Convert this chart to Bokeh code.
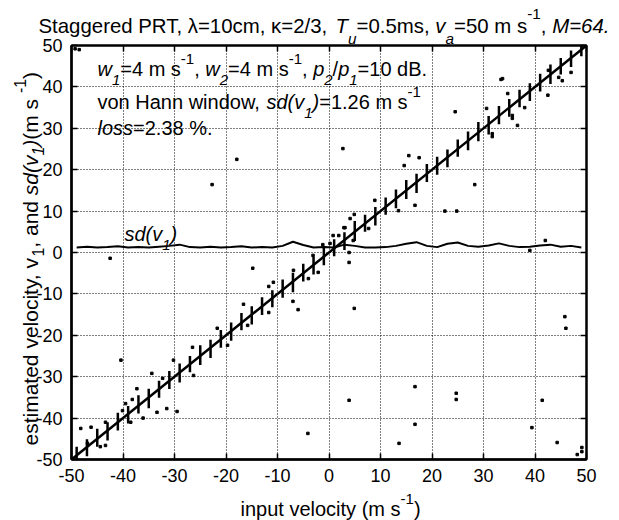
import math
from bokeh.plotting import figure
from bokeh.models import Range1d, LinearAxis, Label, FixedTicker, GridBox, Column
from bokeh.embed import file_html
from bokeh.resources import INLINE

FONT = "Liberation Sans"

# ---------------- data ----------------
tick_values = [-50, -40, -30, -20, -10, 0, 10, 20, 30, 40, 50]
tick_labels = ["-50", "-40", "-30", "-20", "-10", "0", "10", "20", "30", "40", "50"]

# input velocities at which the estimates were computed
stroke_x = [-49, -47, -45, -43, -41, -39, -37, -35, -33, -31,
            -29, -27, -25, -23, -21, -19, -17, -15, -13, -11,
            -9, -7, -5, -3, -1, 1, 3, 5, 7, 9,
            11, 13, 15, 17, 19, 21, 23, 25, 27, 29,
            31, 33, 35, 37, 39, 41, 43, 45, 47, 49]
# extent of the dense cluster of estimates below / above the input velocity
stroke_below = [1.7, 2.2, 1.9, 2.4, 2.0, 2.3, 1.9, 2.6, 2.1, 2.0,
                2.4, 1.9, 2.2, 2.5, 2.0, 2.3, 1.8, 2.4, 2.1, 2.2,
                1.9, 2.6, 2.0, 2.3, 2.1, 1.9, 2.4, 2.2, 2.0, 2.5,
                1.9, 2.3, 2.1, 2.6, 2.0, 2.2, 2.4, 1.9, 2.3, 2.1,
                2.5, 2.0, 2.2, 1.9, 2.4, 2.1, 2.3, 2.0, 2.2, 1.6]
stroke_above = [2.1, 1.9, 2.4, 2.0, 2.3, 1.9, 2.5, 2.1, 2.0, 2.4,
                2.2, 2.0, 2.6, 1.9, 2.3, 2.1, 2.4, 2.0, 2.2, 1.9,
                2.5, 2.1, 2.3, 2.0, 2.4, 2.2, 1.9, 2.6, 2.1, 2.0,
                2.3, 2.2, 2.5, 2.0, 2.4, 2.1, 1.9, 2.3, 2.2, 2.5,
                2.0, 2.4, 2.1, 2.3, 1.9, 2.2, 2.4, 2.0, 1.8, 1.4]

# mean estimate line
mean_x = [-50, 50]
mean_y = [-50, 50]

# standard deviation of the estimates
sd_x = stroke_x
sd_y = [1.2, 1.4, 1.2, 1.3, 1.5, 1.2, 1.3, 1.2, 1.4, 1.6,
        1.9, 1.3, 1.2, 1.4, 1.2, 1.3, 1.5, 1.2, 1.3, 1.2,
        1.6, 2.6, 1.8, 1.2, 1.3, 1.2, 1.9, 1.6, 1.2, 1.2,
        1.3, 1.6, 2.1, 2.5, 1.6, 1.3, 2.1, 2.4, 1.6, 1.4,
        1.7, 2.2, 1.6, 1.3, 1.4, 1.7, 1.9, 1.4, 1.6, 1.2]

# individual estimates away from the dense clusters (near-line spread and outliers)
dot_x = [-49.3, -48.5, -22.7, -17.9, 2.7, 24.5, 33.4, 15.5, 17.5, 28.3,
         14.6, 16.7, 22.5, 24.8, 38.0, 42.5, 47.0, -42.5, -14.8, -40.4,
         -34.4, -7.0, -6.0, 4.9, 3.9, -37.3, -33.4, -31.5, -29.5, -48.2,
         -46.2, -4.1, 3.9, -36.1, 16.7, 24.7, 24.7, 41.4, 16.7, 13.6,
         39.4, 44.3, 48.2, 49.1, 49.1, 42.0, 39.0, 45.8, 46.0,
         -43.4, -44.4, -39.5, -38.5, -32.3, -38.2, -43.4, -46.9, -40.1,
         8.9, 13.5, 4.1, 4.9, 2.9, 4.7, 3.9, 0.8, -1.2, -2.1,
         -4.0, 7.7, 1.9, -3.1,
         33.7, 34.7, 44.6, 45.3, 30.6, 31.7, 31.7, 35.6, 35.6, 36.6, 42.6,
         -30.2, -26.5, -21.7, -19.7, -16.6, -15.8, -11.7, -10.8, -11.7, -6.9,
         0.2, 3.1, -26.3]
dot_y = [49.2, 49.0, 16.4, 22.5, 25.1, 34.0, 41.8, 23.4, 22.9, 16.4,
         21.0, 11.4, 10.0, 10.0, 35.0, 38.0, 43.5, -1.4, -3.8, -26.0,
         -29.2, -11.8, -13.8, -13.5, -2.4, -32.9, -38.6, -37.7, -38.4, -42.5,
         -42.2, -43.7, -35.7, -40.0, -32.4, -34.0, -35.5, -35.7, -41.5, -46.1,
         -42.3, -45.9, -48.8, -48.1, -47.1, 2.9, 0.5, -15.5, -18.3,
         -46.6, -46.9, -36.5, -41.0, -30.4, -35.5, -41.0, -46.1, -38.2,
         12.6, 10.1, 8.2, 9.2, 6.0, 2.9, 0.0, 4.1, 1.9, -4.8,
         -6.3, 5.8, 4.1, -0.7,
         42.0, 38.4, 42.3, 41.5, 34.8, 28.7, 28.0, 33.1, 32.4, 30.7, 44.0,
         -26.0, -22.9, -18.3, -22.4, -12.5, -17.6, -8.2, -7.2, -14.5, -4.3,
         2.2, 6.0, -29.7]

stroke_lo = [x - d for x, d in zip(stroke_x, stroke_below)]
stroke_hi = [x + d for x, d in zip(stroke_x, stroke_above)]

# ---------------- main figure ----------------
PW, PH = 619, 520
FX0, FY0, FW, FH = 71, 45, 515, 414   # frame position/size on the page

p = figure(frame_width=FW, frame_height=FH,
           x_range=Range1d(-50, 50), y_range=Range1d(-50, 50),
           output_backend="svg", toolbar_location=None,
           min_border_left=FX0, min_border_right=PW - FX0 - FW,
           min_border_top=FY0, min_border_bottom=PH - FY0 - FH)
p.background_fill_color = "white"
p.border_fill_color = "white"
p.outline_line_color = "black"
p.outline_line_width = 2

for ax in (p.xaxis[0], p.yaxis[0]):
    ax.ticker = FixedTicker(ticks=tick_values)
    ax.major_label_overrides = {v: s for v, s in zip(tick_values, tick_labels)}
    ax.major_tick_in = 6
    ax.major_tick_out = 0
    ax.minor_tick_line_color = None
    ax.axis_line_width = 2.5
    ax.major_tick_line_width = 1.5
    ax.major_label_text_font = FONT
    ax.major_label_text_font_size = "18px"
    ax.major_label_text_color = "black"
    ax.major_label_standoff = 9

for loc in ("above", "right"):
    ax = LinearAxis(ticker=FixedTicker(ticks=tick_values),
                    major_label_overrides={v: "" for v in tick_values},
                    major_tick_in=6, major_tick_out=0,
                    minor_tick_line_color=None, axis_line_width=2,
                    major_tick_line_width=1.5, major_label_standoff=0)
    p.add_layout(ax, loc)

for g in (p.xgrid[0], p.ygrid[0]):
    g.ticker = FixedTicker(ticks=tick_values)
    g.grid_line_color = "black"
    g.grid_line_dash = "1 2"
    g.grid_line_width = 1

p.segment(x0=stroke_x, y0=stroke_lo, x1=stroke_x, y1=stroke_hi,
          line_color="black", line_width=2.5)
p.line(mean_x, mean_y, line_color="black", line_width=2.5)
p.line(sd_x, sd_y, line_color="black", line_width=2)
p.scatter(dot_x, dot_y, marker="square", size=2.5, color="black")

# ---------------- transparent text layer over the whole page ----------------
t = figure(width=PW, height=PH, x_range=Range1d(0, PW), y_range=Range1d(PH, 0),
           x_axis_type=None, y_axis_type=None, min_border=0,
           output_backend="svg", toolbar_location=None)
t.outline_line_color = None
t.background_fill_color = None
t.border_fill_color = None

W = {' ': 278, ',': 278, '.': 278, '/': 278, '-': 333, '=': 584, '(': 333,
     ')': 333, '%': 889, 'λ': 500, 'κ': 500,
     'a': 556, 'b': 556, 'c': 500, 'd': 556, 'e': 556, 'f': 278, 'g': 556,
     'h': 556, 'i': 222, 'j': 222, 'k': 500, 'l': 222, 'm': 833, 'n': 556,
     'o': 556, 'p': 556, 'q': 556, 'r': 333, 's': 500, 't': 278, 'u': 556,
     'v': 500, 'w': 722, 'x': 500, 'y': 500, 'z': 500,
     'A': 667, 'B': 667, 'C': 722, 'D': 722, 'E': 667, 'F': 611, 'G': 778,
     'H': 722, 'I': 278, 'M': 833, 'P': 667, 'R': 722, 'S': 667, 'T': 611}


def text_width(s, size):
    return sum(W.get(c, 556) for c in s) * size / 1000.0


def put_runs(x_px, base_px, runs, size, rotated=False, sub=0.55, sup=0.5):
    pos = 0.0
    for txt, italic, lev in runs:
        s = size if lev == 0 else size * 0.75
        shift = 0.0
        if lev == "sub":
            shift = -sub * size
        elif lev == "sup":
            shift = sup * size
        if not rotated:
            x, y, ang = x_px + pos, base_px - shift, 0.0
        else:
            x, y, ang = x_px - shift, base_px - pos, math.pi / 2
        t.add_layout(Label(x=x, y=y, text=txt, angle=ang, text_font=FONT,
                           text_font_size=f"{s:.1f}px",
                           text_font_style="italic" if italic else "normal",
                           text_color="black", text_align="left",
                           text_baseline="alphabetic"))
        pos += text_width(txt, s)


put_runs(38, 25, [("Staggered PRT, λ=10cm, κ=2/3, ", False, 0), ("T", True, 0),
                  ("u", True, "sub"), ("=0.5ms, ", False, 0), ("v", True, 0),
                  ("a", True, "sub"), ("=50 m s", False, 0), ("-1", False, "sup"),
                  (", ", False, 0), ("M=64.", True, 0)], 20.4, sub=0.65, sup=0.55)

put_runs(97, 68, [("w", True, 0), ("1", True, "sub"), ("=4 m s", False, 0),
                  ("-1", False, "sup"), (", ", False, 0), ("w", True, 0),
                  ("2", True, "sub"), ("=4 m s", False, 0), ("-1", False, "sup"),
                  (", ", False, 0), ("p", True, 0), ("2", True, "sub"),
                  ("/", False, 0), ("p", True, 0), ("1", True, "sub"),
                  ("=10 dB.", False, 0)], 20)
put_runs(97, 101, [("von Hann window, ", False, 0), ("sd(v", True, 0),
                   ("1", True, "sub"), (")", True, 0), ("=1.26 m s", False, 0),
                   ("-1", False, "sup")], 20)
put_runs(97, 127, [("loss", True, 0), ("=2.38 %.", False, 0)], 20)

put_runs(124, 233, [("sd(v", True, 0), ("1", True, "sub"), (")", True, 0)], 20)

put_runs(240, 508, [("input velocity (m s", False, 0), ("-1", False, "sup"),
                    (")", False, 0)], 20)
put_runs(30, 445, [("estimated velocity, v", False, 0), ("1", False, "sub"),
                   (", and ", False, 0), ("sd(v", True, 0), ("1", True, "sub"),
                   (")", True, 0), (" (m s", False, 0), ("-1", False, "sup"),
                   (")", False, 0)], 21, rotated=True, sub=0.35, sup=0.5)

page = GridBox(children=[(p, 0, 0), (Column(children=[t]), 0, 0)])
open("out.html", "w").write(file_html(page, INLINE))
